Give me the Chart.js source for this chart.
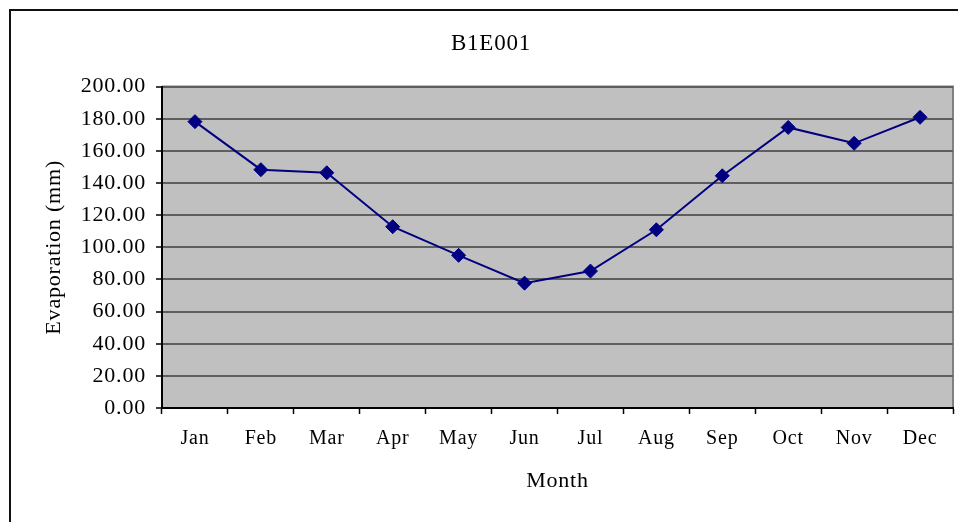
<!DOCTYPE html>
<html>
<head>
<meta charset="utf-8">
<script src="https://cdn.jsdelivr.net/npm/chart.js@4/dist/chart.umd.min.js"></script>
<style>
  html, body { margin: 0; padding: 0; background: #ffffff; overflow: hidden; }
  #wrap { position: relative; width: 958px; height: 522px; }
  #frame { position: absolute; left: 9px; top: 9px; width: 1000px; height: 600px;
           border-left: 2px solid #111; border-top: 2px solid #111; box-sizing: border-box; z-index: 0; }
  canvas { position: absolute; left: 0; top: 0; z-index: 1; }
</style>
</head>
<body>
<div id="wrap">
  <div id="frame"></div>
  <canvas id="c" width="958" height="522"></canvas>
</div>
<script>
const chartTitle = "B1E001";
const xAxisTitle = "Month";
const yAxisTitle = "Evaporation (mm)";
const months = ["Jan", "Feb", "Mar", "Apr", "May", "Jun", "Jul", "Aug", "Sep", "Oct", "Nov", "Dec"];
const evaporation = [178.2, 148.3, 146.4, 112.8, 95.0, 77.7, 85.2, 110.9, 144.5, 174.6, 164.7, 180.9];
const yMin = 0, yMax = 200, yStep = 20;

const FONT = "'Liberation Serif', 'Times New Roman', serif";

const plotStyle = {
  id: 'plotStyle',
  beforeLayout(chart) { chart.ctx.letterSpacing = '0.8px'; },
  beforeDraw(chart) {
    const ctx = chart.ctx;
    ctx.letterSpacing = '0.8px';
    const a = chart.chartArea;
    ctx.save();
    ctx.fillStyle = '#C0C0C0';
    ctx.fillRect(a.left, a.top, a.right - a.left, a.bottom - a.top);
    ctx.strokeStyle = '#808080';
    ctx.lineWidth = 2;
    ctx.beginPath();
    ctx.moveTo(a.left, a.top);
    ctx.lineTo(a.right, a.top);
    ctx.lineTo(a.right, a.bottom);
    ctx.stroke();
    ctx.restore();
  }
};

new Chart(document.getElementById('c'), {
  type: 'line',
  data: {
    labels: months,
    datasets: [{
      data: evaporation,
      borderColor: '#000080',
      backgroundColor: '#000080',
      borderWidth: 2,
      pointStyle: 'rectRot',
      pointRadius: 7,
      pointBorderWidth: 1,
      tension: 0,
      fill: false
    }]
  },
  plugins: [plotStyle],
  options: {
    responsive: false,
    animation: false,
    devicePixelRatio: 1,
    layout: { autoPadding: false, padding: { left: 29, right: 5, top: 0, bottom: 0 } },
    plugins: {
      legend: { display: false },
      tooltip: { enabled: false },
      title: {
        display: true,
        text: chartTitle,
        color: '#000',
        font: { family: FONT, size: 23, weight: 'normal' },
        padding: { top: 30, bottom: 29 }
      }
    },
    scales: {
      x: {
        type: 'category',
        offset: true,
        grid: { display: true, drawOnChartArea: false, offset: true, drawTicks: true, tickLength: 6, tickColor: '#000', tickWidth: 1.5 },
        border: { display: true, color: '#000', width: 2 },
        ticks: { color: '#000', font: { family: FONT, size: 20 }, padding: 13, maxRotation: 0, autoSkip: false },
        title: { display: true, text: xAxisTitle, color: '#000', font: { family: FONT, size: 22 }, padding: { top: 0, bottom: 28 } },
        afterFit(scale) { scale.height = 114; }
      },
      y: {
        min: yMin, max: yMax,
        grid: { color: '#5e5e5e', lineWidth: 2, drawTicks: true, tickLength: 6, tickColor: '#000', tickWidth: 1.5 },
        border: { display: true, color: '#000', width: 2 },
        ticks: {
          stepSize: yStep, color: '#000', padding: 10,
          font: { family: FONT, size: 22 },
          callback: (v) => Number(v).toFixed(2)
        },
        title: { display: true, text: yAxisTitle, color: '#000', font: { family: FONT, size: 22 }, padding: { top: 12, bottom: 0 } },
        afterFit(scale) { scale.width = 133; }
      }
    }
  }
});
</script>
</body>
</html>
